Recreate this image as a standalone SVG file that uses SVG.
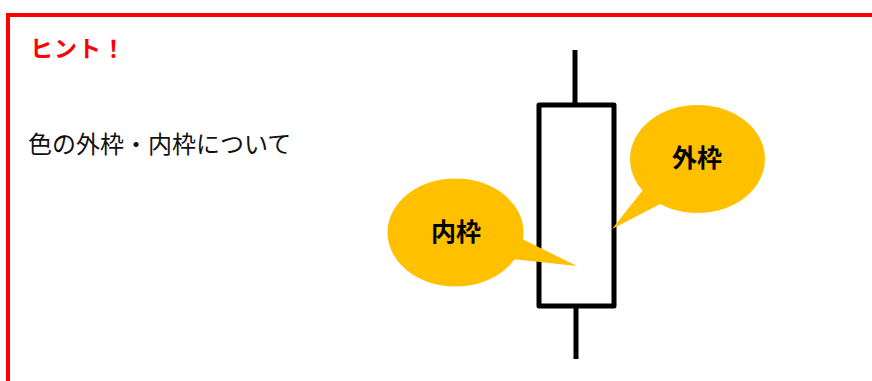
<svg xmlns="http://www.w3.org/2000/svg" width="872" height="381" viewBox="0 0 872 381">
<style>
.jp{font-family:"Noto Sans CJK JP","Noto Sans",sans-serif}
.callout{fill:#FFC000}
.lbl{font-size:25px;font-weight:bold;fill:#000;text-anchor:middle}
.ink{stroke:#000;stroke-width:5;fill:none}
</style>
<rect width="872" height="381" fill="#fff"/>
<g id="frame">
<rect x="8" y="15" width="880" height="380" fill="none" stroke="#FF0000" stroke-width="4"/>
</g>
<g id="title">
<text class="jp" x="30" y="57" font-size="23" font-weight="bold" fill="#FF0000" letter-spacing="1">ヒント！</text>
</g>
<g id="subtitle">
<text class="jp" x="28" y="153" font-size="24" fill="#111">色の外枠・内枠について</text>
</g>
<g id="candle">
<line class="ink" x1="575" y1="50" x2="575" y2="105"/>
<line class="ink" x1="576" y1="306" x2="576" y2="359"/>
<rect class="ink" x="539" y="105" width="75" height="201" stroke-linejoin="round"/>
</g>
<g id="callout-outer">
<ellipse class="callout" cx="697.5" cy="159" rx="67.5" ry="54"/>
<polygon class="callout" points="643,190 662,203 612,229"/>
<text class="jp lbl" x="697" y="167">外枠</text>
</g>
<g id="callout-inner">
<ellipse class="callout" cx="455.5" cy="232.5" rx="68" ry="54"/>
<polygon class="callout" points="518,237 512,259 577,266"/>
<text class="jp lbl" x="456" y="241">内枠</text>
</g>
</svg>
